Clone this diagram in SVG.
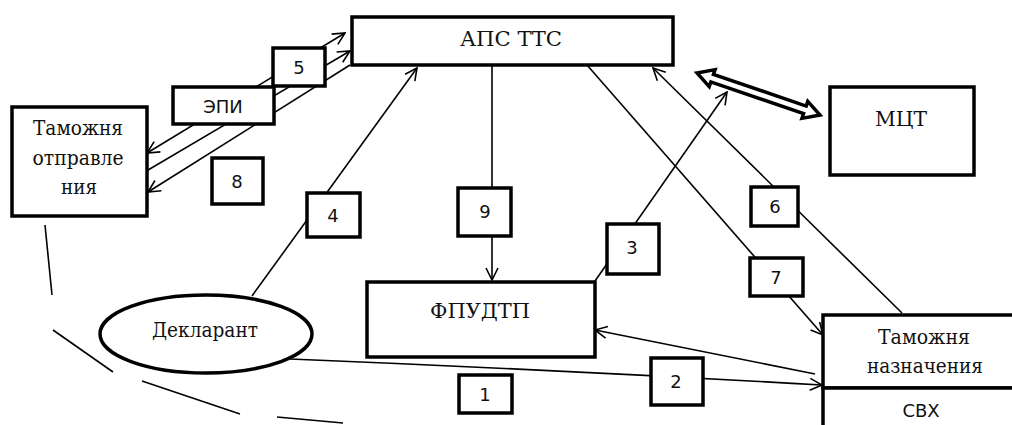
<svg xmlns="http://www.w3.org/2000/svg" width="1012" height="425" viewBox="0 0 1012 425">
<style>
.node{fill:#fff;stroke:#000;stroke-width:3.5}
.num{fill:#fff;stroke:#000;stroke-width:3.5}
.ln{stroke:#000;stroke-width:1.6;fill:none}
.dash{stroke:#000;stroke-width:1.6;fill:none}
.serif{font-family:'DejaVu Serif',serif;font-size:20px;fill:#111;text-anchor:middle}
.sans{font-family:'DejaVu Sans',Verdana,sans-serif;font-size:18px;fill:#111;text-anchor:middle}
</style>
<defs>
<marker id="arr" viewBox="0 0 14 14" refX="13" refY="7" markerWidth="14" markerHeight="14" markerUnits="userSpaceOnUse" orient="auto-start-reverse">
<path d="M1,1 L13,7 L1,13" fill="none" stroke="#000" stroke-width="1.6"/>
</marker>
</defs>
<rect width="1012" height="425" fill="#fff"/>
<g id="connectors">
<line class="ln" x1="147" y1="153" x2="345" y2="33" marker-start="url(#arr)" marker-end="url(#arr)"/>
<line class="ln" x1="143" y1="173" x2="350" y2="51" marker-end="url(#arr)"/>
<line class="ln" x1="350" y1="65" x2="148" y2="192" marker-end="url(#arr)"/>
<line class="ln" x1="252" y1="296" x2="417" y2="68" marker-end="url(#arr)"/>
<line class="ln" x1="492" y1="65" x2="492" y2="280" marker-end="url(#arr)"/>
<line class="ln" x1="595" y1="281" x2="727" y2="92" marker-end="url(#arr)"/>
<line class="ln" x1="587" y1="65" x2="823" y2="335" marker-end="url(#arr)"/>
<line class="ln" x1="902" y1="313" x2="653" y2="68" marker-end="url(#arr)"/>
<line class="ln" x1="815" y1="374" x2="595" y2="330" marker-end="url(#arr)"/>
<path class="ln" d="M290,359 Q560,370 822,385" marker-end="url(#arr)"/>
<line class="dash" x1="45" y1="225" x2="52" y2="295"/>
<line class="dash" x1="53" y1="330" x2="113" y2="372"/>
<line class="dash" x1="142" y1="381" x2="240" y2="414"/>
<line class="dash" x1="277" y1="417" x2="343" y2="423"/>
<polygon transform="translate(697,73) rotate(18.85)" points="0,0 16,-9 16,-4 114,-4 114,-9 130,0 114,9 114,4 16,4 16,9" fill="#fff" stroke="#000" stroke-width="3.5" stroke-linejoin="miter"/>
</g>
<g id="aps">
<rect class="node" x="352" y="17" width="321" height="48"/>
<text class="serif" x="511" y="46" textLength="102" lengthAdjust="spacingAndGlyphs">АПС ТТС</text>
</g>
<g id="mct">
<rect class="node" x="830" y="87" width="144" height="88"/>
<text class="serif" x="901" y="126" textLength="52" lengthAdjust="spacingAndGlyphs">МЦТ</text>
</g>
<g id="tam_otpr">
<rect class="node" x="12" y="107" width="135" height="109"/>
<text class="serif" x="78" y="135" textLength="90" lengthAdjust="spacingAndGlyphs">Таможня</text>
<text class="serif" x="78" y="165" textLength="91" lengthAdjust="spacingAndGlyphs">отправле</text>
<text class="serif" x="79" y="194" textLength="36" lengthAdjust="spacingAndGlyphs">ния</text>
</g>
<g id="epi">
<rect class="node" x="173" y="87" width="101" height="37"/>
<text class="sans" x="223" y="113">ЭПИ</text>
</g>
<g id="fpudtp">
<rect class="node" x="367" y="282" width="228" height="75"/>
<text class="serif" x="480" y="318" textLength="100" lengthAdjust="spacingAndGlyphs">ФПУДТП</text>
</g>
<g id="deklarant">
<ellipse class="node" cx="206" cy="334" rx="106" ry="39"/>
<text class="serif" x="205" y="337" textLength="106" lengthAdjust="spacingAndGlyphs">Декларант</text>
</g>
<g id="tam_nazn">
<rect class="node" x="823" y="315" width="200" height="73"/>
<text class="serif" x="924" y="344" textLength="92" lengthAdjust="spacingAndGlyphs">Таможня</text>
<text class="serif" x="925" y="373" textLength="116" lengthAdjust="spacingAndGlyphs">назначения</text>
</g>
<g id="svh">
<rect class="node" x="823" y="388" width="200" height="60"/>
<text class="sans" x="921" y="417">СВХ</text>
</g>
<g id="n5"><rect class="num" x="273" y="48" width="52" height="38"/><text class="sans" x="299" y="74">5</text></g>
<g id="n8"><rect class="num" x="212" y="158" width="51" height="46"/><text class="sans" x="237" y="188">8</text></g>
<g id="n4"><rect class="num" x="307" y="193" width="53" height="44"/><text class="sans" x="333" y="222">4</text></g>
<g id="n9"><rect class="num" x="458" y="188" width="53" height="48"/><text class="sans" x="485" y="218">9</text></g>
<g id="n3"><rect class="num" x="607" y="224" width="52" height="50"/><text class="sans" x="632" y="254">3</text></g>
<g id="n6"><rect class="num" x="751" y="187" width="47" height="39"/><text class="sans" x="775" y="213">6</text></g>
<g id="n7"><rect class="num" x="750" y="258" width="53" height="38"/><text class="sans" x="776" y="284">7</text></g>
<g id="n2"><rect class="num" x="651" y="358" width="52" height="47"/><text class="sans" x="676" y="388">2</text></g>
<g id="n1"><rect class="num" x="459" y="375" width="53" height="38"/><text class="sans" x="485" y="401">1</text></g>
</svg>
